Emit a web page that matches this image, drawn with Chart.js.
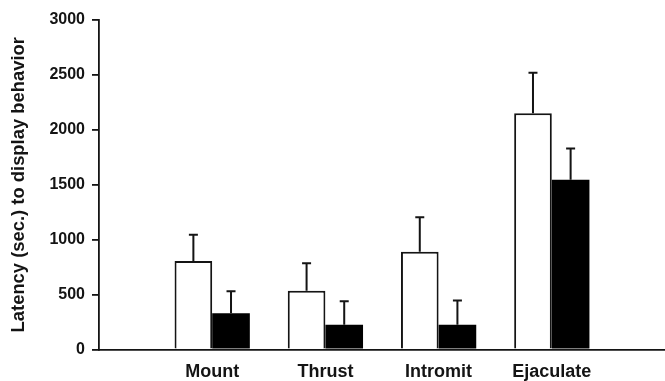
<!DOCTYPE html>
<html>
<head>
<meta charset="utf-8">
<script src="https://cdn.jsdelivr.net/npm/chart.js@4"></script>
<style>
  html, body { margin: 0; padding: 0; background: #fff; }
  #wrap { width: 665px; height: 381px; }
</style>
</head>
<body>
<div id="wrap"><canvas id="c" width="665" height="381"></canvas></div>
<script>
const categories = ['Mount', 'Thrust', 'Intromit', 'Ejaculate'];
const openValues = [805, 535, 890, 2150];
const openErrors = [240, 250, 315, 370];
const filledValues = [330, 225, 225, 1545];
const filledErrors = [200, 215, 220, 285];
const yTicks = [0, 500, 1000, 1500, 2000, 2500, 3000];
const yTitle = 'Latency (sec.) to display behavior';

const labels = [''].concat(categories, ['']);
const pad = arr => [null].concat(arr, [null]);

const FONT = '"Liberation Sans", Arial, sans-serif';
const INK = '#141414';

const errorBars = {
  id: 'errorBars',
  afterDatasetsDraw(chart) {
    const ctx = chart.ctx;
    const ys = chart.scales.y;
    chart.data.datasets.forEach((ds, i) => {
      const meta = chart.getDatasetMeta(i);
      meta.data.forEach((bar, j) => {
        const v = ds.data[j];
        const e = ds.errors[j];
        if (v == null || e == null) return;
        const x = bar.x;
        const top = ys.getPixelForValue(v);
        const end = ys.getPixelForValue(v + e);
        ctx.save();
        ctx.strokeStyle = INK;
        ctx.lineWidth = 2;
        ctx.beginPath();
        ctx.moveTo(x, top);
        ctx.lineTo(x, end);
        ctx.moveTo(x - 4.5, end);
        ctx.lineTo(x + 4.5, end);
        ctx.stroke();
        ctx.restore();
      });
    });
  }
};

new Chart(document.getElementById('c'), {
  type: 'bar',
  data: {
    labels: labels,
    datasets: [
      {
        data: pad(openValues),
        errors: pad(openErrors),
        backgroundColor: '#ffffff',
        borderColor: INK,
        borderWidth: 2,
        borderSkipped: 'bottom'
      },
      {
        data: pad(filledValues),
        errors: pad(filledErrors),
        backgroundColor: '#000000',
        borderColor: '#000000',
        borderWidth: 0
      }
    ]
  },
  options: {
    responsive: false,
    animation: false,
    devicePixelRatio: 1,
    layout: { padding: { left: 4, top: 20, right: -2, bottom: 0 } },
    datasets: { bar: { categoryPercentage: 0.665, barPercentage: 1.0 } },
    plugins: {
      legend: { display: false },
      tooltip: { enabled: false },
      title: { display: false }
    },
    scales: {
      x: {
        type: 'category',
        offset: false,
        afterFit: s => {
          s.paddingLeft = 0; s.paddingRight = 0; s.paddingTop = 0; s.paddingBottom = 0;
          s.height = 31.5;
        },
        grid: { display: true, drawOnChartArea: false, drawTicks: false },
        border: { display: true, color: INK, width: 1.8 },
        ticks: {
          padding: 12,
          maxRotation: 0,
          autoSkip: false,
          color: INK,
          font: { family: FONT, size: 18, weight: 'bold' }
        }
      },
      y: {
        min: 0,
        max: 3000,
        afterBuildTicks: s => { s.ticks = yTicks.map(v => ({ value: v })); },
        afterFit: s => {
          s.width = 95;
          s.paddingTop = 0; s.paddingBottom = 0; s.paddingLeft = 0; s.paddingRight = 0;
        },
        grid: { display: true, drawOnChartArea: false, drawTicks: true, tickLength: 7, color: INK, lineWidth: 1.8 },
        border: { display: true, color: INK, width: 1.8 },
        ticks: {
          padding: 7,
          color: INK,
          callback: v => String(v),
          font: { family: FONT, size: 16, weight: 'bold' }
        },
        title: {
          display: true,
          text: yTitle,
          color: INK,
          padding: { top: 4, bottom: 4 },
          font: { family: FONT, size: 18.4, weight: 'bold' }
        }
      }
    }
  },
  plugins: [errorBars]
});
</script>
</body>
</html>
